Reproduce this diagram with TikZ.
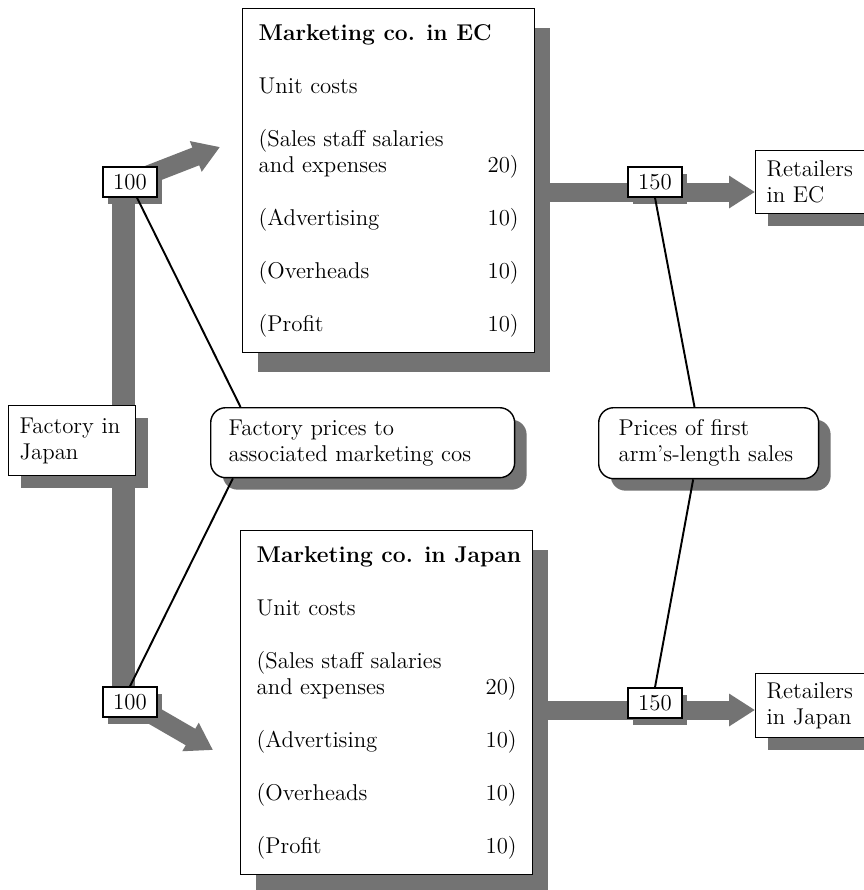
\documentclass[tikz,border=0pt]{standalone}
\usepackage{tikz}
\usetikzlibrary{arrows.meta,shadows,backgrounds,calc}

\tikzset{
  box/.style={draw, line width=0.8pt, fill=white, align=left,
    font=\fontsize{13}{14.8}\selectfont},
  bigshadow/.style={drop shadow={shadow xshift=0.3cm, shadow yshift=-0.38cm,
    fill=black!55, opacity=1}},
  midshadow/.style={drop shadow={shadow xshift=0.24cm, shadow yshift=-0.24cm,
    fill=black!55, opacity=1}},
  smallshadow/.style={drop shadow={shadow xshift=0.1cm, shadow yshift=-0.14cm,
    fill=black!55, opacity=1}},
  mktbox/.style={box, bigshadow, anchor=north west, inner xsep=0.32cm, inner ysep=0.27cm},
  endbox/.style={box, midshadow, anchor=north west, minimum height=1.4cm},
  note/.style={endbox, rounded corners=0.3cm},
  numbox/.style={box, smallshadow, align=center, minimum width=1.08cm,
    minimum height=0.6cm, inner sep=0pt},
  flow/.style={draw=black!55, line width=0.38cm},
  flowarrow/.style={flow, -{Triangle[length=0.52cm,width=0.62cm]}},
  conn/.style={line width=1.1pt}
}
\newcommand{\mkttitle}[1]{\multicolumn{2}{@{}l@{}}{\makebox[5.2cm][l]{\textbf{#1}}}}

\begin{document}
\begin{tikzpicture}[x=0.02cm, y=-0.02cm]
  \useasboundingbox (0,0) rectangle (863,890);

  % marketing companies
  \node[mktbox] (mEC) at (242,8) {%
    \begin{tabular*}{5.2cm}{@{}l@{\extracolsep{\fill}}r@{}}
      \mkttitle{Marketing co. in EC}\\[0.54cm]
      Unit costs\\[0.54cm]
      (Sales staff salaries\\
      and expenses & 20)\\[0.54cm]
      (Advertising & 10)\\[0.54cm]
      (Overheads & 10)\\[0.54cm]
      (Profit & 10)
    \end{tabular*}};
  \node[mktbox] (mJP) at (240,530) {%
    \begin{tabular*}{5.2cm}{@{}l@{\extracolsep{\fill}}r@{}}
      \mkttitle{Marketing co. in Japan}\\[0.54cm]
      Unit costs\\[0.54cm]
      (Sales staff salaries\\
      and expenses & 20)\\[0.54cm]
      (Advertising & 10)\\[0.54cm]
      (Overheads & 10)\\[0.54cm]
      (Profit & 10)
    \end{tabular*}};

  % factory, retailers and notes
  \node[endbox, text width=2.1cm, inner xsep=0.22cm] (fac) at (8,405) {Factory in\\Japan};
  \node[endbox, text width=2.1cm, inner xsep=0.22cm, minimum height=1.26cm] (rEC) at (755,150) {Retailers\\in EC};
  \node[endbox, text width=2.1cm, inner xsep=0.22cm, minimum height=1.28cm] (rJP) at (755,673) {Retailers\\in Japan};
  \node[note, text width=5.36cm, inner xsep=0.36cm] (fp) at (210,407) {Factory prices to\\associated marketing cos};
  \node[note, text width=3.6cm, inner xsep=0.4cm, minimum height=1.42cm] (ap) at (598,407) {Prices of first\\arm's-length sales};

  % prices
  \node[numbox] (fEC) at (130,182) {100};
  \node[numbox] (fJP) at (130,702) {100};
  \node[numbox] (pEC) at (655,182) {150};
  \node[numbox] (pJP) at (655,703) {150};

  \coordinate (tEC) at (220,147);
  \coordinate (tJP) at (213,750);
  \coordinate (sEC) at (540,192);
  \coordinate (sJP) at (540,710);

  % goods flows
  \begin{scope}[on background layer]
    \fill[white] (0,0) rectangle (863,890);
    \draw[flow, line width=0.46cm] ([xshift=-0.14cm]fEC.center) -- ([xshift=-0.14cm]fJP.south);
    \draw[flowarrow] (fEC.center) -- (tEC);
    \draw[flowarrow] (fJP.center) -- (tJP);
    \draw[flowarrow] (sEC) -- (sEC -| rEC.west);
    \draw[flowarrow] (sJP) -- (sJP -| rJP.west);
  \end{scope}

  \draw[conn] ([xshift=0.14cm]fEC.south) -- ($(fp.north west)!0.1!(fp.north east)$);
  \draw[conn] ($(fp.south west)!0.075!(fp.south east)$) -- (fJP.north);
  \draw[conn] (pEC.south) -- ($(ap.north west)!0.436!(ap.north east)$);
  \draw[conn] ($(ap.south west)!0.43!(ap.south east)$) -- (pJP.north);
\end{tikzpicture}
\end{document}
